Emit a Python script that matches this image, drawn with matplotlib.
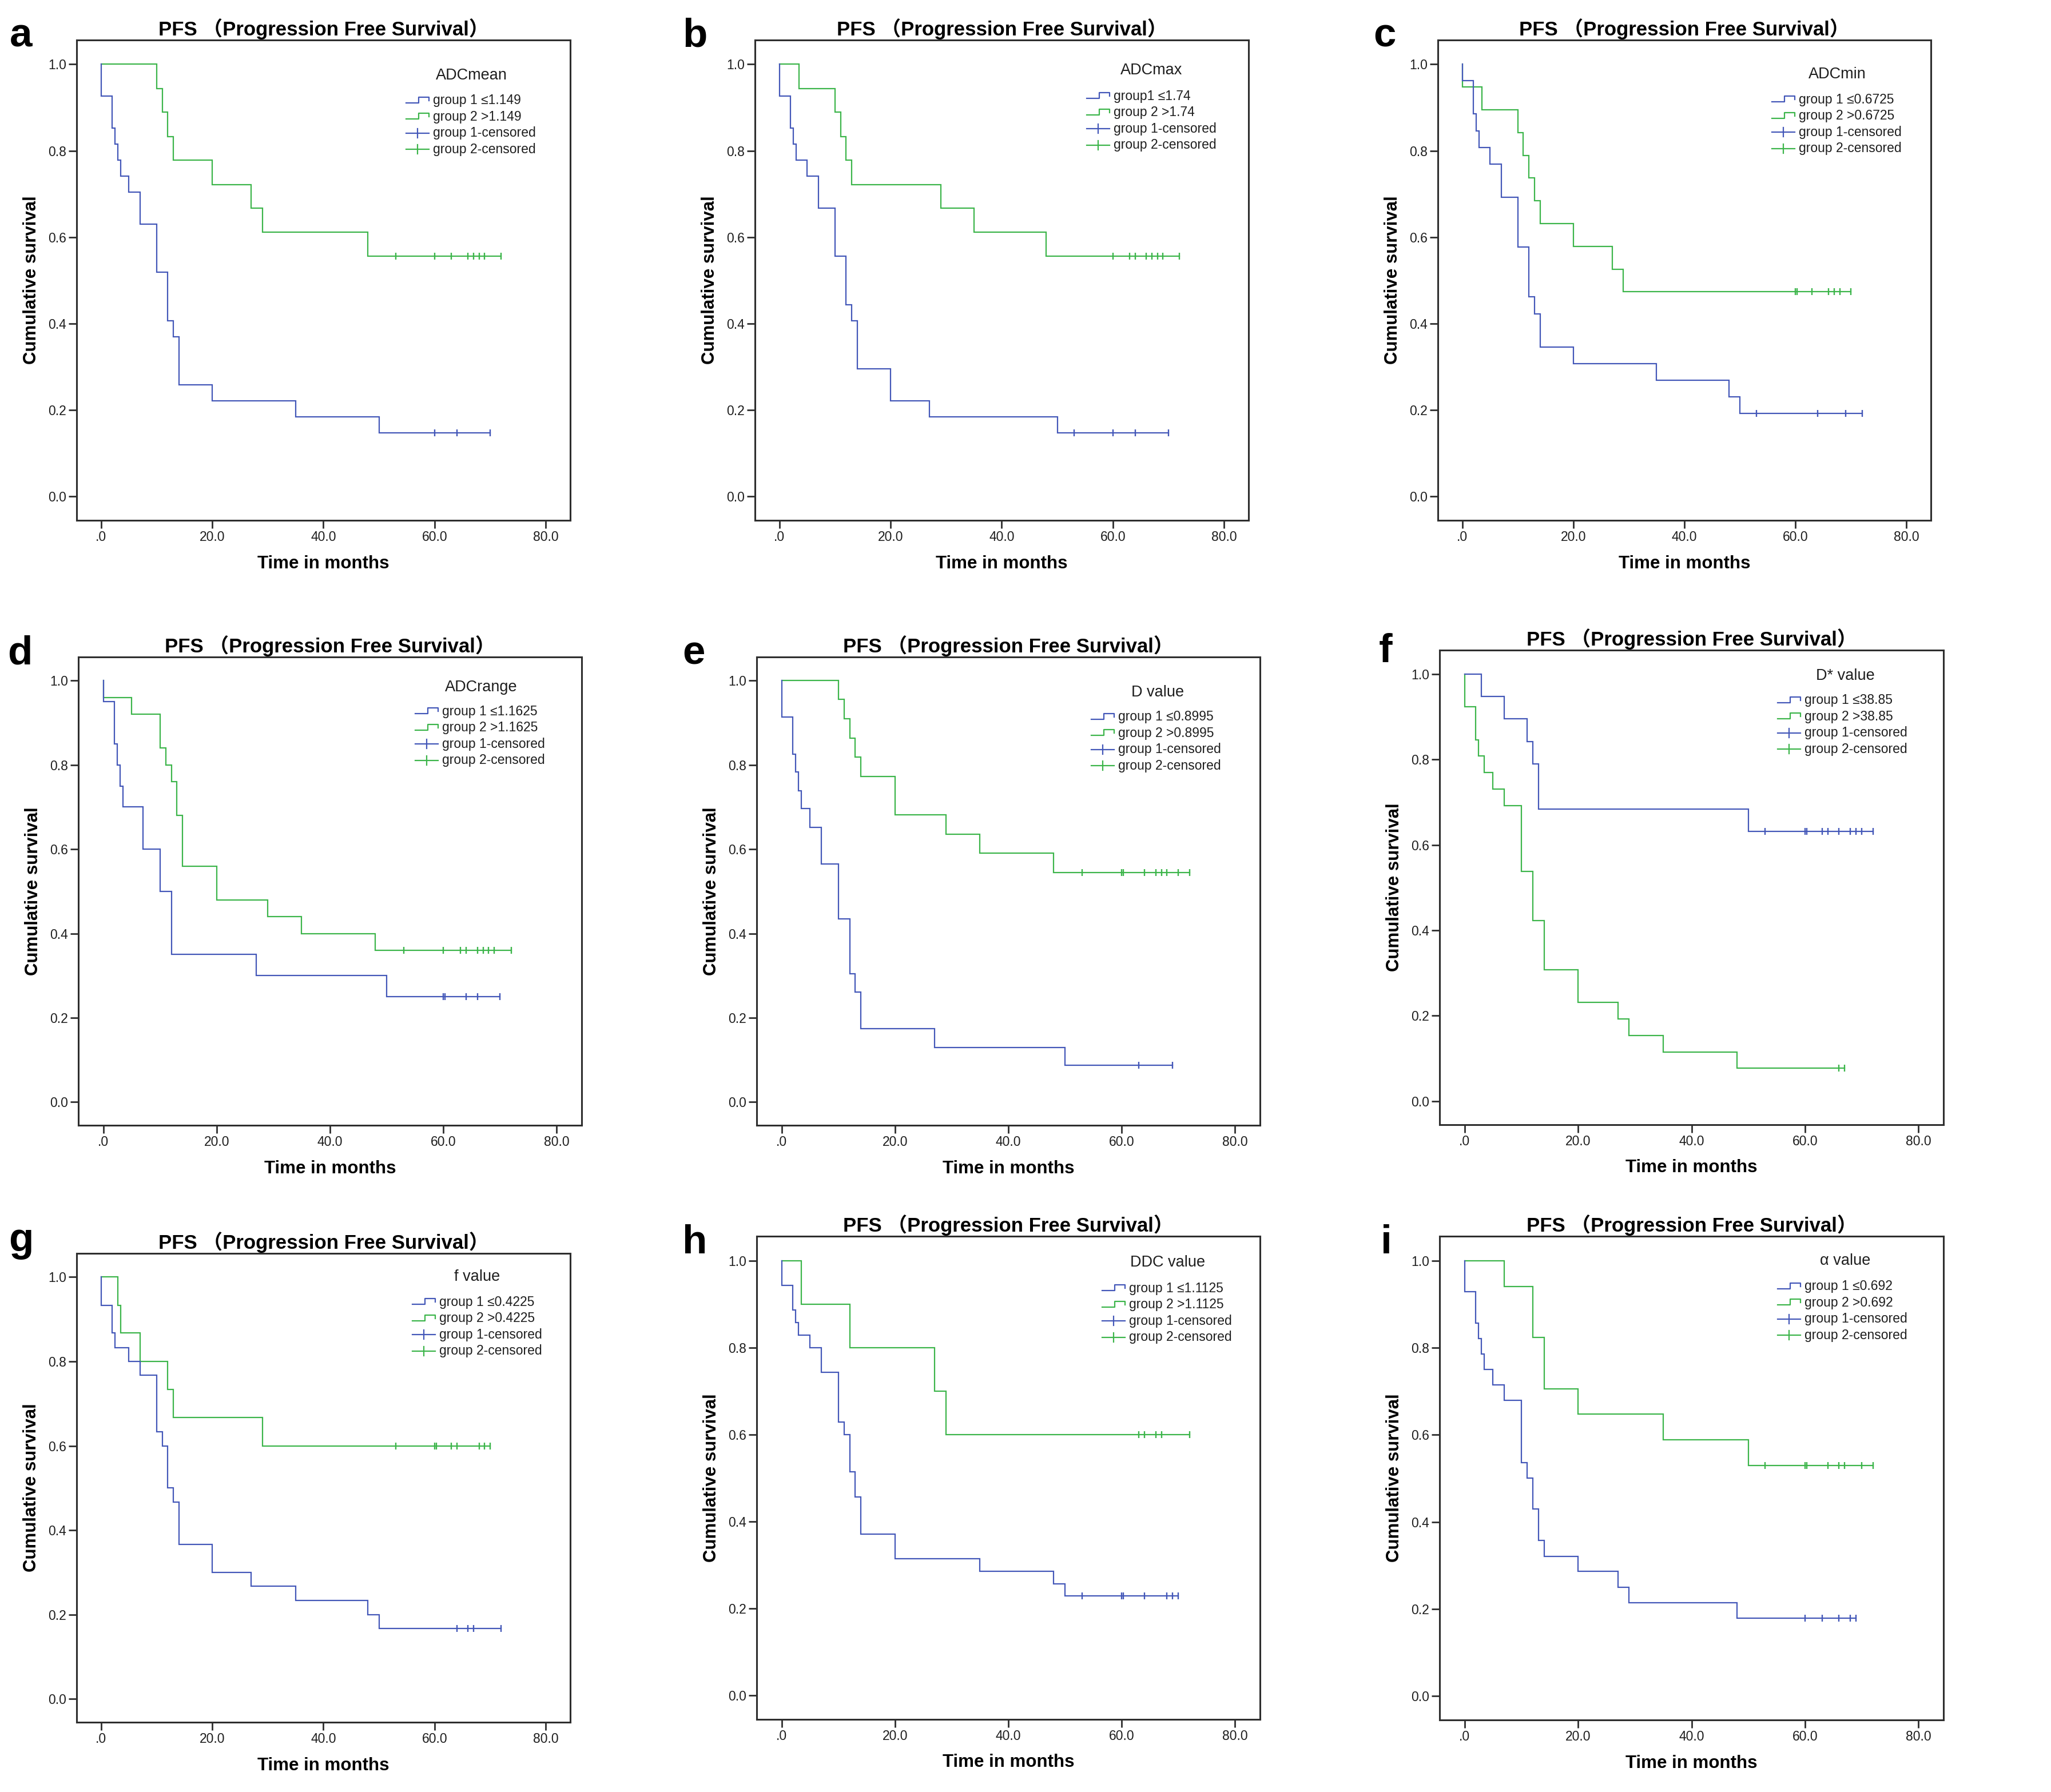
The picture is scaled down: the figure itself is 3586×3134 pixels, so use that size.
import numpy as np
import matplotlib
matplotlib.use("Agg")
import matplotlib.pyplot as plt

# ---------------- data ----------------
# each panel: group 1 event times / survival after event / censored times, same for group 2
A_G1_T = [0, 2, 2.5, 3, 3.5, 5, 7, 10, 12, 13, 14, 20, 35, 50]
A_G1_S = [0.926, 0.852, 0.815, 0.778, 0.741, 0.704, 0.630, 0.519, 0.407, 0.370, 0.259, 0.222, 0.185, 0.148]
A_G1_C = [60, 64, 70]
A_G2_T = [10, 11, 12, 13, 20, 27, 29, 48]
A_G2_S = [0.944, 0.889, 0.833, 0.778, 0.722, 0.667, 0.611, 0.556]
A_G2_C = [53, 60, 63, 66, 67, 68, 69, 72]

B_G1_T = [0, 2, 2.5, 3, 5, 7, 10, 12, 13, 14, 20, 27, 50]
B_G1_S = [0.926, 0.852, 0.815, 0.778, 0.741, 0.667, 0.556, 0.444, 0.407, 0.296, 0.222, 0.185, 0.148]
B_G1_C = [53, 60, 64, 70]
B_G2_T = [3.5, 10, 11, 12, 13, 29, 35, 48]
B_G2_S = [0.944, 0.889, 0.833, 0.778, 0.722, 0.667, 0.611, 0.556]
B_G2_C = [60, 63, 64, 66, 67, 68, 69, 72]

C_G1_T = [0, 2, 2.5, 3, 5, 7, 10, 12, 13, 14, 20, 35, 48, 50]
C_G1_S = [0.962, 0.885, 0.846, 0.808, 0.769, 0.692, 0.577, 0.462, 0.423, 0.346, 0.308, 0.269, 0.231, 0.192]
C_G1_C = [53, 64, 69, 72]
C_G2_T = [0, 3.5, 10, 11, 12, 13, 14, 20, 27, 29]
C_G2_S = [0.947, 0.895, 0.842, 0.789, 0.737, 0.684, 0.632, 0.579, 0.526, 0.474]
C_G2_C = [60, 60.3, 63, 66, 67, 68, 70]

D_G1_T = [0, 2, 2.5, 3, 3.5, 7, 10, 12, 27, 50]
D_G1_S = [0.95, 0.85, 0.80, 0.75, 0.70, 0.60, 0.50, 0.35, 0.30, 0.25]
D_G1_C = [60, 60.3, 64, 66, 70]
D_G2_T = [0, 5, 10, 11, 12, 13, 14, 20, 29, 35, 48]
D_G2_S = [0.96, 0.92, 0.84, 0.80, 0.76, 0.68, 0.56, 0.48, 0.44, 0.40, 0.36]
D_G2_C = [53, 60, 63, 64, 66, 67, 68, 69, 72]

E_G1_T = [0, 2, 2.5, 3, 3.5, 5, 7, 10, 12, 13, 14, 27, 50]
E_G1_S = [0.913, 0.826, 0.783, 0.739, 0.696, 0.652, 0.565, 0.435, 0.304, 0.261, 0.174, 0.130, 0.087]
E_G1_C = [63, 69]
E_G2_T = [10, 11, 12, 13, 14, 20, 29, 35, 48]
E_G2_S = [0.955, 0.909, 0.864, 0.818, 0.773, 0.682, 0.636, 0.591, 0.545]
E_G2_C = [53, 60, 60.3, 64, 66, 67, 68, 70, 72]

F_G1_T = [3, 7, 11, 12, 13, 50]
F_G1_S = [0.947, 0.895, 0.842, 0.789, 0.684, 0.632]
F_G1_C = [53, 60, 60.3, 63, 64, 66, 68, 69, 70, 72]
F_G2_T = [0, 2, 2.5, 3.5, 5, 7, 10, 12, 14, 20, 27, 29, 35, 48]
F_G2_S = [0.923, 0.846, 0.808, 0.769, 0.731, 0.692, 0.538, 0.423, 0.308, 0.231, 0.192, 0.154, 0.115, 0.077]
F_G2_C = [66, 67]

G_G1_T = [0, 2, 2.5, 5, 7, 10, 11, 12, 13, 14, 20, 27, 35, 48, 50]
G_G1_S = [0.933, 0.867, 0.833, 0.800, 0.767, 0.633, 0.600, 0.500, 0.467, 0.367, 0.300, 0.267, 0.233, 0.200, 0.167]
G_G1_C = [64, 66, 67, 72]
G_G2_T = [3, 3.5, 7, 12, 13, 29]
G_G2_S = [0.933, 0.867, 0.800, 0.733, 0.667, 0.600]
G_G2_C = [53, 60, 60.3, 63, 64, 68, 69, 70]

H_G1_T = [0, 2, 2.5, 3, 5, 7, 10, 11, 12, 13, 14, 20, 35, 48, 50]
H_G1_S = [0.943, 0.886, 0.857, 0.829, 0.800, 0.743, 0.629, 0.600, 0.514, 0.457, 0.371, 0.314, 0.286, 0.257, 0.229]
H_G1_C = [53, 60, 60.3, 64, 68, 69, 70]
H_G2_T = [3.5, 12, 27, 29]
H_G2_S = [0.90, 0.80, 0.70, 0.60]
H_G2_C = [63, 64, 66, 67, 72]

I_G1_T = [0, 2, 2.5, 3, 3.5, 5, 7, 10, 11, 12, 13, 14, 20, 27, 29, 48]
I_G1_S = [0.929, 0.857, 0.821, 0.786, 0.750, 0.714, 0.679, 0.536, 0.500, 0.429, 0.357, 0.321, 0.286, 0.250, 0.214, 0.179]
I_G1_C = [60, 63, 66, 68, 69]
I_G2_T = [7, 12, 14, 20, 35, 50]
I_G2_S = [0.941, 0.824, 0.706, 0.647, 0.588, 0.529]
I_G2_C = [53, 60, 60.3, 64, 66, 67, 70, 72]

PANEL_LETTERS = ["a", "b", "c", "d", "e", "f", "g", "h", "i"]
LEGEND_TITLES = ["ADCmean", "ADCmax", "ADCmin", "ADCrange", "D value", "D* value",
                 "f value", "DDC value", "\u03b1 value"]
GROUP1_LABELS = ["group 1 \u22641.149", "group1 \u22641.74", "group 1 \u22640.6725",
                 "group 1 \u22641.1625", "group 1 \u22640.8995", "group 1 \u226438.85",
                 "group 1 \u22640.4225", "group 1 \u22641.1125", "group 1 \u22640.692"]
GROUP2_LABELS = ["group 2 >1.149", "group 2 >1.74", "group 2 >0.6725",
                 "group 2 >1.1625", "group 2 >0.8995", "group 2 >38.85",
                 "group 2 >0.4225", "group 2 >1.1125", "group 2 >0.692"]
CENSOR_LABELS = ["group 1-censored", "group 2-censored"]
X_TICKS = [0, 20, 40, 60, 80]
X_TICK_LABELS = [".0", "20.0", "40.0", "60.0", "80.0"]
Y_TICKS = [0.0, 0.2, 0.4, 0.6, 0.8, 1.0]
Y_TICK_LABELS = ["0.0", "0.2", "0.4", "0.6", "0.8", "1.0"]
TITLE = "PFS \uff08Progression Free Survival\uff09"
X_LABEL = "Time in months"
Y_LABEL = "Cumulative survival"

DATA = [
    (A_G1_T, A_G1_S, A_G1_C, A_G2_T, A_G2_S, A_G2_C),
    (B_G1_T, B_G1_S, B_G1_C, B_G2_T, B_G2_S, B_G2_C),
    (C_G1_T, C_G1_S, C_G1_C, C_G2_T, C_G2_S, C_G2_C),
    (D_G1_T, D_G1_S, D_G1_C, D_G2_T, D_G2_S, D_G2_C),
    (E_G1_T, E_G1_S, E_G1_C, E_G2_T, E_G2_S, E_G2_C),
    (F_G1_T, F_G1_S, F_G1_C, F_G2_T, F_G2_S, F_G2_C),
    (G_G1_T, G_G1_S, G_G1_C, G_G2_T, G_G2_S, G_G2_C),
    (H_G1_T, H_G1_S, H_G1_C, H_G2_T, H_G2_S, H_G2_C),
    (I_G1_T, I_G1_S, I_G1_C, I_G2_T, I_G2_S, I_G2_C),
]

# ---------------- layout / style ----------------
W, H, DPI = 3587, 3134, 100
# axes boxes in pixels: left, right, top, bottom
AX_BOXES = [
    (134, 997, 70, 910), (1320, 2183, 70, 910), (2514, 3376, 70, 910),
    (137, 1017, 1149, 1968), (1323, 2203, 1149, 1968), (2517, 3398, 1137, 1967),
    (134, 997, 2192, 3012), (1323, 2203, 2162, 3007), (2517, 3398, 2162, 3008),
]
# letter positions: left px, baseline px
LETTER_POS = [(17, 82), (1193, 82), (2401, 82),
              (13, 1162), (1193, 1162), (2411, 1158),
              (15, 2188), (1193, 2192), (2414, 2192)]
# legend: handle x0 (axes frac), title centre x, title y, first row y
LEG_POS = [
    (0.667, 0.800, 0.926, 0.874), (0.672, 0.803, 0.937, 0.883), (0.678, 0.810, 0.929, 0.876),
    (0.669, 0.800, 0.935, 0.884), (0.665, 0.797, 0.924, 0.872), (0.671, 0.805, 0.946, 0.894),
    (0.680, 0.811, 0.950, 0.896), (0.686, 0.816, 0.946, 0.892), (0.671, 0.805, 0.949, 0.896),
]
BLUE = "#4357b8"
GREEN = "#3cb54a"
FRAME = "#2e2e2e"
TXT = "#1e1e1e"
XLIM = (-4.4, 84.4)
YLIM = (-0.055, 1.056)
FONT = "Liberation Sans"
TITLE_FONT = ["Liberation Sans", "Noto Sans CJK SC", "DejaVu Sans"]
LW = 1.6

plt.rcParams["font.family"] = [FONT, "DejaVu Sans"]

fig = plt.figure(figsize=(W / DPI, H / DPI), dpi=DPI, facecolor="white")


def surv_at(times, surv, t):
    idx = np.searchsorted(np.asarray(times, float), t, side="right") - 1
    return 1.0 if idx < 0 else surv[idx]


def draw_group(ax, times, surv, cens, color):
    end = max(cens)
    xs = [0.0] + list(times) + [end]
    ys = [1.0] + list(surv) + [surv[-1]]
    ax.step(xs, ys, where="post", color=color, lw=LW, solid_joinstyle="miter")
    cy = [surv_at(times, surv, c) for c in cens]
    ax.plot(cens, cy, linestyle="none", marker="|", markersize=9, mew=1.7, color=color)


for k, (box, data) in enumerate(zip(AX_BOXES, DATA)):
    L, R, T, B = box
    ax = fig.add_axes([L / W, 1 - B / H, (R - L) / W, (B - T) / H])
    g1t, g1s, g1c, g2t, g2s, g2c = data
    draw_group(ax, g2t, g2s, g2c, GREEN)
    draw_group(ax, g1t, g1s, g1c, BLUE)

    ax.set_xlim(*XLIM)
    ax.set_ylim(*YLIM)
    ax.set_xticks(X_TICKS)
    ax.set_xticklabels(X_TICK_LABELS)
    ax.set_yticks(Y_TICKS)
    ax.set_yticklabels(Y_TICK_LABELS)
    ax.tick_params(direction="out", length=10, width=2.0, color=FRAME,
                   labelsize=16.5, labelcolor=TXT, pad=3)
    for sp in ax.spines.values():
        sp.set_linewidth(2.2)
        sp.set_color(FRAME)
    ax.set_xlabel(X_LABEL, fontsize=22.5, fontweight="bold", labelpad=14, color="black")
    ax.set_ylabel(Y_LABEL, fontsize=22.5, fontweight="bold", labelpad=10, color="black")
    ax.set_title(TITLE, fontsize=25, fontweight="bold", pad=6, family=TITLE_FONT)

    # ---- legend drawn in axes fraction ----
    ax_w, ax_h = R - L, B - T
    hx, tcx, ty, ry = LEG_POS[k]
    px_x = 1.0 / ax_w
    px_y = 1.0 / ax_h
    hl = 40 * px_x
    ax.text(tcx, ty, LEGEND_TITLES[k], transform=ax.transAxes, ha="center", va="center",
            fontsize=19.5, color=TXT)
    labels = [GROUP1_LABELS[k], GROUP2_LABELS[k], CENSOR_LABELS[0], CENSOR_LABELS[1]]
    colors = [BLUE, GREEN, BLUE, GREEN]
    for j in range(4):
        yc = ry - j * 28.5 * px_y
        if j < 2:
            lo, hi = yc - 4 * px_y, yc + 6 * px_y
            hxs = [hx, hx + 0.55 * hl, hx + 0.55 * hl, hx + hl, hx + hl]
            hys = [lo, lo, hi, hi, yc]
            ax.plot(hxs, hys, transform=ax.transAxes, color=colors[j], lw=LW, clip_on=False)
        else:
            ax.plot([hx, hx + hl], [yc, yc], transform=ax.transAxes, color=colors[j],
                    lw=LW, clip_on=False)
            ax.plot([hx + 0.5 * hl, hx + 0.5 * hl], [yc - 8 * px_y, yc + 8 * px_y],
                    transform=ax.transAxes, color=colors[j], lw=LW, clip_on=False)
        ax.text(hx + 47 * px_x, yc, labels[j], transform=ax.transAxes, ha="left",
                va="center", fontsize=16.5, color=TXT)

    lx, ly = LETTER_POS[k]
    fig.text(lx / W, 1 - ly / H, PANEL_LETTERS[k], fontsize=51, fontweight="bold",
             ha="left", va="baseline", color="black")

fig.savefig("out.png", dpi=DPI, facecolor="white")
